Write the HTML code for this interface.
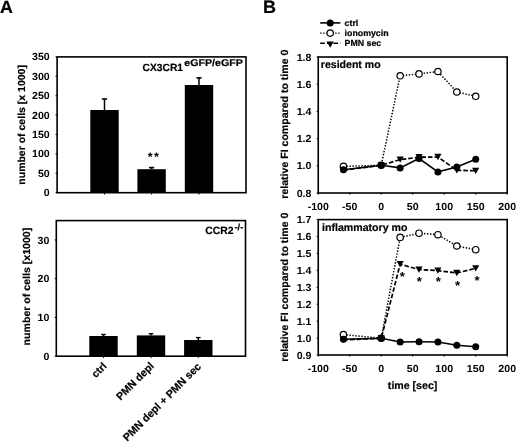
<!DOCTYPE html>
<html><head><meta charset="utf-8"><style>
html,body{margin:0;padding:0;background:#fff;width:520px;height:443px;overflow:hidden}
svg{display:block;will-change:transform}
</style></head><body>
<svg width="520" height="443" viewBox="0 0 520 443" font-family="Liberation Sans" font-weight="bold" fill="#000" text-rendering="geometricPrecision">
<style>text{stroke:none} .s{stroke:#000;stroke-width:0.2px}</style>
<rect width="520" height="443" fill="#fff"/>
<text x="-0.1" y="12.6" font-size="17.8" text-anchor="start" class="s">A</text>
<text x="263.0" y="12.7" font-size="18.0" text-anchor="start" class="s">B</text>
<rect x="57.1" y="56.9" width="188.9" height="135.79999999999998" fill="none" stroke="#000" stroke-width="1.6"/>
<line x1="55.5" y1="192.70" x2="57.1" y2="192.70" stroke="#000" stroke-width="1"/>
<text transform="translate(49.7,196.29) scale(1.02,1)" font-size="10.4" text-anchor="end" >0</text>
<line x1="55.5" y1="173.30" x2="57.1" y2="173.30" stroke="#000" stroke-width="1"/>
<text transform="translate(49.7,176.89) scale(1.02,1)" font-size="10.4" text-anchor="end" >50</text>
<line x1="55.5" y1="153.90" x2="57.1" y2="153.90" stroke="#000" stroke-width="1"/>
<text transform="translate(49.7,157.49) scale(1.02,1)" font-size="10.4" text-anchor="end" >100</text>
<line x1="55.5" y1="134.50" x2="57.1" y2="134.50" stroke="#000" stroke-width="1"/>
<text transform="translate(49.7,138.09) scale(1.02,1)" font-size="10.4" text-anchor="end" >150</text>
<line x1="55.5" y1="115.10" x2="57.1" y2="115.10" stroke="#000" stroke-width="1"/>
<text transform="translate(49.7,118.69) scale(1.02,1)" font-size="10.4" text-anchor="end" >200</text>
<line x1="55.5" y1="95.70" x2="57.1" y2="95.70" stroke="#000" stroke-width="1"/>
<text transform="translate(49.7,99.29) scale(1.02,1)" font-size="10.4" text-anchor="end" >250</text>
<line x1="55.5" y1="76.30" x2="57.1" y2="76.30" stroke="#000" stroke-width="1"/>
<text transform="translate(49.7,79.89) scale(1.02,1)" font-size="10.4" text-anchor="end" >300</text>
<line x1="55.5" y1="56.90" x2="57.1" y2="56.90" stroke="#000" stroke-width="1"/>
<text transform="translate(49.7,60.49) scale(1.02,1)" font-size="10.4" text-anchor="end" >350</text>
<rect x="90.30" y="110.0" width="28.4" height="82.70" fill="#000"/>
<line x1="104.5" y1="110.0" x2="104.5" y2="99.0" stroke="#000" stroke-width="1.5"/>
<line x1="101.9" y1="99.0" x2="107.1" y2="99.0" stroke="#000" stroke-width="1.6"/>
<rect x="137.40" y="169.2" width="28.4" height="23.50" fill="#000"/>
<line x1="151.6" y1="169.2" x2="151.6" y2="167.6" stroke="#000" stroke-width="1.5"/>
<line x1="149.0" y1="167.6" x2="154.2" y2="167.6" stroke="#000" stroke-width="1.6"/>
<rect x="184.80" y="85.0" width="28.4" height="107.70" fill="#000"/>
<line x1="199.0" y1="85.0" x2="199.0" y2="77.9" stroke="#000" stroke-width="1.5"/>
<line x1="196.4" y1="77.9" x2="201.6" y2="77.9" stroke="#000" stroke-width="1.6"/>
<line x1="104.5" y1="192.7" x2="104.5" y2="194.6" stroke="#000" stroke-width="0.9"/>
<line x1="151.6" y1="192.7" x2="151.6" y2="194.6" stroke="#000" stroke-width="0.9"/>
<line x1="199.0" y1="192.7" x2="199.0" y2="194.6" stroke="#000" stroke-width="0.9"/>
<text x="150.3" y="160.6" font-size="12.5" text-anchor="middle" >*</text>
<text x="156.5" y="160.6" font-size="12.5" text-anchor="middle" >*</text>
<text x="142.6" y="70.9" font-size="10.4" text-anchor="start" textLength="40.4" lengthAdjust="spacingAndGlyphs" class="s">CX3CR1</text>
<text x="184.3" y="66.3" font-size="9.8" text-anchor="start" textLength="58.6" lengthAdjust="spacingAndGlyphs" class="s">eGFP/eGFP</text>
<text transform="translate(25.4,124.9) rotate(-90)" class="s" x="0" y="0" font-size="10.2" text-anchor="middle" textLength="119.6" lengthAdjust="spacingAndGlyphs">number of cells [x 1000]</text>
<rect x="56.3" y="220.6" width="189.2" height="135.6" fill="none" stroke="#000" stroke-width="1.6"/>
<line x1="54.699999999999996" y1="356.20" x2="56.3" y2="356.20" stroke="#000" stroke-width="1"/>
<text transform="translate(49.4,359.79) scale(1.02,1)" font-size="10.4" text-anchor="end" >0</text>
<line x1="54.699999999999996" y1="317.46" x2="56.3" y2="317.46" stroke="#000" stroke-width="1"/>
<text transform="translate(49.4,321.05) scale(1.02,1)" font-size="10.4" text-anchor="end" >10</text>
<line x1="54.699999999999996" y1="278.71" x2="56.3" y2="278.71" stroke="#000" stroke-width="1"/>
<text transform="translate(49.4,282.30) scale(1.02,1)" font-size="10.4" text-anchor="end" >20</text>
<line x1="54.699999999999996" y1="239.97" x2="56.3" y2="239.97" stroke="#000" stroke-width="1"/>
<text transform="translate(49.4,243.56) scale(1.02,1)" font-size="10.4" text-anchor="end" >30</text>
<rect x="89.30" y="336.0" width="28.4" height="20.20" fill="#000"/>
<line x1="103.5" y1="336.0" x2="103.5" y2="334.5" stroke="#000" stroke-width="1.5"/>
<line x1="101.2" y1="334.5" x2="105.8" y2="334.5" stroke="#000" stroke-width="1.4"/>
<rect x="136.80" y="335.4" width="28.4" height="20.80" fill="#000"/>
<line x1="151.0" y1="335.4" x2="151.0" y2="333.7" stroke="#000" stroke-width="1.5"/>
<line x1="148.7" y1="333.7" x2="153.3" y2="333.7" stroke="#000" stroke-width="1.4"/>
<rect x="184.10" y="340.0" width="28.4" height="16.20" fill="#000"/>
<line x1="198.3" y1="340.0" x2="198.3" y2="337.6" stroke="#000" stroke-width="1.5"/>
<line x1="196.0" y1="337.6" x2="200.60000000000002" y2="337.6" stroke="#000" stroke-width="1.4"/>
<line x1="103.5" y1="356.2" x2="103.5" y2="358.09999999999997" stroke="#000" stroke-width="0.9"/>
<line x1="151.0" y1="356.2" x2="151.0" y2="358.09999999999997" stroke="#000" stroke-width="0.9"/>
<line x1="198.3" y1="356.2" x2="198.3" y2="358.09999999999997" stroke="#000" stroke-width="0.9"/>
<text x="205.3" y="234.1" font-size="10.5" text-anchor="start" textLength="28.3" lengthAdjust="spacingAndGlyphs" class="s">CCR2</text>
<text x="234.5" y="229.5" font-size="9.0" text-anchor="start" textLength="8.8" lengthAdjust="spacingAndGlyphs" class="s">-/-</text>
<text transform="translate(29.9,286.6) rotate(-90)" class="s" x="0" y="0" font-size="10.2" text-anchor="middle" textLength="117.6" lengthAdjust="spacingAndGlyphs">number of cells [x1000]</text>
<text transform="translate(107.3,366.8) rotate(-45)" x="0" y="0" font-size="10.4" text-anchor="end" style="stroke:#000;stroke-width:0.22px">ctrl</text>
<text transform="translate(154.6,366.7) rotate(-45)" x="0" y="0" font-size="10.6" text-anchor="end" style="stroke:#000;stroke-width:0.22px">PMN depl</text>
<text transform="translate(201.7,367.2) rotate(-45)" x="0" y="0" font-size="10.7" text-anchor="end" style="stroke:#000;stroke-width:0.22px">PMN depl + PMN sec</text>
<rect x="318.25" y="57.0" width="188.95" height="136.00" fill="none" stroke="#000" stroke-width="1.6"/>
<line x1="316.65" y1="193.00" x2="318.25" y2="193.00" stroke="#000" stroke-width="1"/>
<text transform="translate(311.4,196.55) scale(1.03,1)" font-size="10.3" text-anchor="end" >0.8</text>
<line x1="316.65" y1="165.80" x2="318.25" y2="165.80" stroke="#000" stroke-width="1"/>
<text transform="translate(311.4,169.35) scale(1.03,1)" font-size="10.3" text-anchor="end" >1.0</text>
<line x1="316.65" y1="138.60" x2="318.25" y2="138.60" stroke="#000" stroke-width="1"/>
<text transform="translate(311.4,142.15) scale(1.03,1)" font-size="10.3" text-anchor="end" >1.2</text>
<line x1="316.65" y1="111.40" x2="318.25" y2="111.40" stroke="#000" stroke-width="1"/>
<text transform="translate(311.4,114.95) scale(1.03,1)" font-size="10.3" text-anchor="end" >1.4</text>
<line x1="316.65" y1="84.20" x2="318.25" y2="84.20" stroke="#000" stroke-width="1"/>
<text transform="translate(311.4,87.75) scale(1.03,1)" font-size="10.3" text-anchor="end" >1.6</text>
<line x1="316.65" y1="57.00" x2="318.25" y2="57.00" stroke="#000" stroke-width="1"/>
<text transform="translate(311.4,60.55) scale(1.03,1)" font-size="10.3" text-anchor="end" >1.8</text>
<line x1="318.25" y1="193.0" x2="318.25" y2="194.6" stroke="#000" stroke-width="1"/>
<text transform="translate(318.25,209.75) scale(1.03,1)" font-size="10.3" text-anchor="middle" >-100</text>
<line x1="349.74" y1="193.0" x2="349.74" y2="194.6" stroke="#000" stroke-width="1"/>
<text transform="translate(349.74,209.75) scale(1.03,1)" font-size="10.3" text-anchor="middle" >-50</text>
<line x1="381.23" y1="193.0" x2="381.23" y2="194.6" stroke="#000" stroke-width="1"/>
<text transform="translate(381.23,209.75) scale(1.03,1)" font-size="10.3" text-anchor="middle" >0</text>
<line x1="412.73" y1="193.0" x2="412.73" y2="194.6" stroke="#000" stroke-width="1"/>
<text transform="translate(412.73,209.75) scale(1.03,1)" font-size="10.3" text-anchor="middle" >50</text>
<line x1="444.22" y1="193.0" x2="444.22" y2="194.6" stroke="#000" stroke-width="1"/>
<text transform="translate(444.22,209.75) scale(1.03,1)" font-size="10.3" text-anchor="middle" >100</text>
<line x1="475.71" y1="193.0" x2="475.71" y2="194.6" stroke="#000" stroke-width="1"/>
<text transform="translate(475.71,209.75) scale(1.03,1)" font-size="10.3" text-anchor="middle" >150</text>
<line x1="507.20" y1="193.0" x2="507.20" y2="194.6" stroke="#000" stroke-width="1"/>
<text transform="translate(507.20,209.75) scale(1.03,1)" font-size="10.3" text-anchor="middle" >200</text>
<polyline points="343.44,166.40 381.23,165.30 400.13,75.80 419.02,73.90 437.92,71.50 456.81,92.00 475.71,96.30" fill="none" stroke="#000" stroke-width="1.5" stroke-dasharray="1.4,1.6"/>
<polyline points="343.44,170.20 381.23,165.30 400.13,159.60 419.02,157.20 437.92,157.00 456.81,170.30 475.71,170.80" fill="none" stroke="#000" stroke-width="1.7" stroke-dasharray="4.6,2.0"/>
<polyline points="343.44,169.80 381.23,165.30 400.13,167.90 419.02,158.50 437.92,171.90 456.81,167.10 475.71,159.30" fill="none" stroke="#000" stroke-width="1.6"/>
<circle cx="343.44" cy="166.40" r="3.1999999999999997" fill="#fff" stroke="#000" stroke-width="1.2"/>
<circle cx="381.23" cy="165.30" r="3.1999999999999997" fill="#fff" stroke="#000" stroke-width="1.2"/>
<circle cx="400.13" cy="75.80" r="3.1999999999999997" fill="#fff" stroke="#000" stroke-width="1.2"/>
<circle cx="419.02" cy="73.90" r="3.1999999999999997" fill="#fff" stroke="#000" stroke-width="1.2"/>
<circle cx="437.92" cy="71.50" r="3.1999999999999997" fill="#fff" stroke="#000" stroke-width="1.2"/>
<circle cx="456.81" cy="92.00" r="3.1999999999999997" fill="#fff" stroke="#000" stroke-width="1.2"/>
<circle cx="475.71" cy="96.30" r="3.1999999999999997" fill="#fff" stroke="#000" stroke-width="1.2"/>
<circle cx="343.44" cy="169.80" r="3.5" fill="#000"/>
<circle cx="381.23" cy="165.30" r="3.5" fill="#000"/>
<circle cx="400.13" cy="167.90" r="3.5" fill="#000"/>
<circle cx="419.02" cy="158.50" r="3.5" fill="#000"/>
<circle cx="437.92" cy="171.90" r="3.5" fill="#000"/>
<circle cx="456.81" cy="167.10" r="3.5" fill="#000"/>
<circle cx="475.71" cy="159.30" r="3.5" fill="#000"/>
<path d="M339.84,167.05 L347.04,167.05 L343.44,173.35 Z" fill="#000"/>
<path d="M377.63,162.15 L384.83,162.15 L381.23,168.45 Z" fill="#000"/>
<path d="M396.53,156.45 L403.73,156.45 L400.13,162.75 Z" fill="#000"/>
<path d="M415.42,154.05 L422.62,154.05 L419.02,160.35 Z" fill="#000"/>
<path d="M434.32,153.85 L441.52,153.85 L437.92,160.15 Z" fill="#000"/>
<path d="M453.21,167.15 L460.41,167.15 L456.81,173.45 Z" fill="#000"/>
<path d="M472.11,167.65 L479.31,167.65 L475.71,173.95 Z" fill="#000"/>
<text x="320.8" y="68.3" font-size="10.6" text-anchor="start" textLength="59.8" lengthAdjust="spacingAndGlyphs" class="s">resident mo</text>
<polyline points="320.20,22.90 340.40,22.90" fill="none" stroke="#000" stroke-width="1.6"/>
<circle cx="330.20" cy="22.90" r="3.5" fill="#000"/>
<text x="344.6" y="26.10" font-size="8.8" text-anchor="start" class="s">ctrl</text>
<polyline points="320.20,33.10 340.40,33.10" fill="none" stroke="#000" stroke-width="1.2" stroke-dasharray="1.4,1.6"/>
<circle cx="330.20" cy="33.10" r="3.1999999999999997" fill="#fff" stroke="#000" stroke-width="1.2"/>
<text x="344.6" y="36.30" font-size="8.8" text-anchor="start" class="s">ionomycin</text>
<polyline points="320.20,43.20 340.40,43.20" fill="none" stroke="#000" stroke-width="1.5" stroke-dasharray="4.6,2.0"/>
<path d="M326.60,41.45 L333.80,41.45 L330.20,47.75 Z" fill="#000"/>
<text x="344.6" y="46.40" font-size="8.8" text-anchor="start" class="s">PMN sec</text>
<text transform="translate(288.4,124.2) rotate(-90)" class="s" x="0" y="0" font-size="10.4" text-anchor="middle" textLength="149" lengthAdjust="spacingAndGlyphs">relative FI compared to time 0</text>
<rect x="318.25" y="219.6" width="188.95" height="135.40" fill="none" stroke="#000" stroke-width="1.6"/>
<line x1="316.65" y1="355.00" x2="318.25" y2="355.00" stroke="#000" stroke-width="1"/>
<text transform="translate(311.4,358.55) scale(1.03,1)" font-size="10.3" text-anchor="end" >0.9</text>
<line x1="316.65" y1="338.07" x2="318.25" y2="338.07" stroke="#000" stroke-width="1"/>
<text transform="translate(311.4,341.63) scale(1.03,1)" font-size="10.3" text-anchor="end" >1.0</text>
<line x1="316.65" y1="321.15" x2="318.25" y2="321.15" stroke="#000" stroke-width="1"/>
<text transform="translate(311.4,324.70) scale(1.03,1)" font-size="10.3" text-anchor="end" >1.1</text>
<line x1="316.65" y1="304.23" x2="318.25" y2="304.23" stroke="#000" stroke-width="1"/>
<text transform="translate(311.4,307.78) scale(1.03,1)" font-size="10.3" text-anchor="end" >1.2</text>
<line x1="316.65" y1="287.30" x2="318.25" y2="287.30" stroke="#000" stroke-width="1"/>
<text transform="translate(311.4,290.85) scale(1.03,1)" font-size="10.3" text-anchor="end" >1.3</text>
<line x1="316.65" y1="270.38" x2="318.25" y2="270.38" stroke="#000" stroke-width="1"/>
<text transform="translate(311.4,273.93) scale(1.03,1)" font-size="10.3" text-anchor="end" >1.4</text>
<line x1="316.65" y1="253.45" x2="318.25" y2="253.45" stroke="#000" stroke-width="1"/>
<text transform="translate(311.4,257.00) scale(1.03,1)" font-size="10.3" text-anchor="end" >1.5</text>
<line x1="316.65" y1="236.52" x2="318.25" y2="236.52" stroke="#000" stroke-width="1"/>
<text transform="translate(311.4,240.08) scale(1.03,1)" font-size="10.3" text-anchor="end" >1.6</text>
<line x1="316.65" y1="219.60" x2="318.25" y2="219.60" stroke="#000" stroke-width="1"/>
<text transform="translate(311.4,223.15) scale(1.03,1)" font-size="10.3" text-anchor="end" >1.7</text>
<line x1="318.25" y1="355.0" x2="318.25" y2="356.6" stroke="#000" stroke-width="1"/>
<text transform="translate(318.25,372.45) scale(1.03,1)" font-size="10.3" text-anchor="middle" >-100</text>
<line x1="349.74" y1="355.0" x2="349.74" y2="356.6" stroke="#000" stroke-width="1"/>
<text transform="translate(349.74,372.45) scale(1.03,1)" font-size="10.3" text-anchor="middle" >-50</text>
<line x1="381.23" y1="355.0" x2="381.23" y2="356.6" stroke="#000" stroke-width="1"/>
<text transform="translate(381.23,372.45) scale(1.03,1)" font-size="10.3" text-anchor="middle" >0</text>
<line x1="412.73" y1="355.0" x2="412.73" y2="356.6" stroke="#000" stroke-width="1"/>
<text transform="translate(412.73,372.45) scale(1.03,1)" font-size="10.3" text-anchor="middle" >50</text>
<line x1="444.22" y1="355.0" x2="444.22" y2="356.6" stroke="#000" stroke-width="1"/>
<text transform="translate(444.22,372.45) scale(1.03,1)" font-size="10.3" text-anchor="middle" >100</text>
<line x1="475.71" y1="355.0" x2="475.71" y2="356.6" stroke="#000" stroke-width="1"/>
<text transform="translate(475.71,372.45) scale(1.03,1)" font-size="10.3" text-anchor="middle" >150</text>
<line x1="507.20" y1="355.0" x2="507.20" y2="356.6" stroke="#000" stroke-width="1"/>
<text transform="translate(507.20,372.45) scale(1.03,1)" font-size="10.3" text-anchor="middle" >200</text>
<polyline points="343.44,334.60 381.23,338.30 400.13,237.40 419.02,233.20 437.92,234.70 456.81,246.00 475.71,249.70" fill="none" stroke="#000" stroke-width="1.5" stroke-dasharray="1.4,1.6"/>
<polyline points="343.44,339.80 381.23,338.30 400.13,264.20 419.02,269.60 437.92,270.60 456.81,273.00 475.71,268.30" fill="none" stroke="#000" stroke-width="1.7" stroke-dasharray="4.6,2.0"/>
<polyline points="343.44,339.30 381.23,338.30 400.13,342.00 419.02,341.80 437.92,342.00 456.81,345.20 475.71,346.80" fill="none" stroke="#000" stroke-width="1.6"/>
<circle cx="343.44" cy="334.60" r="3.1999999999999997" fill="#fff" stroke="#000" stroke-width="1.2"/>
<circle cx="381.23" cy="338.30" r="3.1999999999999997" fill="#fff" stroke="#000" stroke-width="1.2"/>
<circle cx="400.13" cy="237.40" r="3.1999999999999997" fill="#fff" stroke="#000" stroke-width="1.2"/>
<circle cx="419.02" cy="233.20" r="3.1999999999999997" fill="#fff" stroke="#000" stroke-width="1.2"/>
<circle cx="437.92" cy="234.70" r="3.1999999999999997" fill="#fff" stroke="#000" stroke-width="1.2"/>
<circle cx="456.81" cy="246.00" r="3.1999999999999997" fill="#fff" stroke="#000" stroke-width="1.2"/>
<circle cx="475.71" cy="249.70" r="3.1999999999999997" fill="#fff" stroke="#000" stroke-width="1.2"/>
<circle cx="343.44" cy="339.30" r="3.5" fill="#000"/>
<circle cx="381.23" cy="338.30" r="3.5" fill="#000"/>
<circle cx="400.13" cy="342.00" r="3.5" fill="#000"/>
<circle cx="419.02" cy="341.80" r="3.5" fill="#000"/>
<circle cx="437.92" cy="342.00" r="3.5" fill="#000"/>
<circle cx="456.81" cy="345.20" r="3.5" fill="#000"/>
<circle cx="475.71" cy="346.80" r="3.5" fill="#000"/>
<path d="M339.84,336.65 L347.04,336.65 L343.44,342.95 Z" fill="#000"/>
<path d="M377.63,335.15 L384.83,335.15 L381.23,341.45 Z" fill="#000"/>
<path d="M396.53,261.05 L403.73,261.05 L400.13,267.35 Z" fill="#000"/>
<path d="M415.42,266.45 L422.62,266.45 L419.02,272.75 Z" fill="#000"/>
<path d="M434.32,267.45 L441.52,267.45 L437.92,273.75 Z" fill="#000"/>
<path d="M453.21,269.85 L460.41,269.85 L456.81,276.15 Z" fill="#000"/>
<path d="M472.11,265.15 L479.31,265.15 L475.71,271.45 Z" fill="#000"/>
<text x="402.30" y="281.02" font-size="13.2" text-anchor="middle" >*</text>
<text x="419.30" y="285.92" font-size="13.2" text-anchor="middle" >*</text>
<text x="438.30" y="285.92" font-size="13.2" text-anchor="middle" >*</text>
<text x="457.60" y="290.22" font-size="13.2" text-anchor="middle" >*</text>
<text x="477.10" y="284.62" font-size="13.2" text-anchor="middle" >*</text>
<text x="322.0" y="231.0" font-size="10.6" text-anchor="start" textLength="85.5" lengthAdjust="spacingAndGlyphs" class="s">inflammatory mo</text>
<text transform="translate(288.4,287.2) rotate(-90)" class="s" x="0" y="0" font-size="10.4" text-anchor="middle" textLength="149" lengthAdjust="spacingAndGlyphs">relative FI compared to time 0</text>
<text x="412.6" y="388.8" font-size="10.6" text-anchor="middle" class="s">time [sec]</text>
</svg>
</body></html>
